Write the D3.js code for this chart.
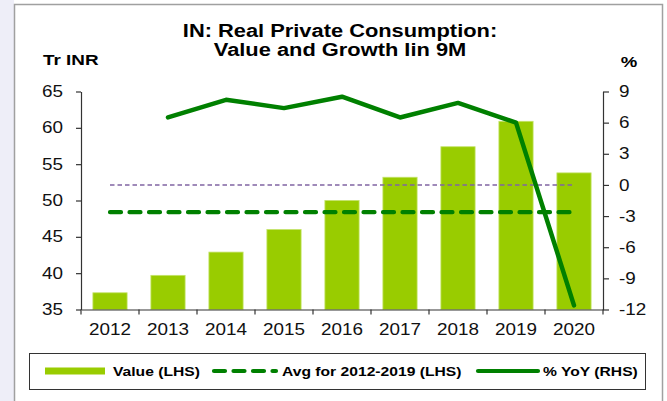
<!DOCTYPE html>
<html>
<head>
<meta charset="utf-8">
<script src="https://cdn.jsdelivr.net/npm/d3@7"></script>
<style>
  html, body { margin: 0; padding: 0; background: #ffffff; }
  svg { display: block; font-family: "Liberation Sans", Arial, sans-serif; }
</style>
</head>
<body>
<svg id="chart" width="667" height="401"></svg>
<script>
// ---- data ----
const years = ["2012","2013","2014","2015","2016","2017","2018","2019","2020"];
const values = [37.3, 39.7, 42.9, 46.0, 50.0, 53.2, 57.4, 60.9, 53.8];
const yoyYears = ["2013","2014","2015","2016","2017","2018","2019","2020"];
const yoyValues = [6.5, 8.2, 7.4, 8.5, 6.5, 7.9, 6.0, -11.6];
const avgValue = 48.4;
const leftTicks = [35, 40, 45, 50, 55, 60, 65];
const rightTicks = [-12, -9, -6, -3, 0, 3, 6, 9];
const titleLines = ["IN: Real Private Consumption:", "Value and Growth Iin 9M"];
const legendLabels = ["Value (LHS)", "Avg for 2012-2019 (LHS)", "% YoY (RHS)"];

const barColor = "#99cc00";
const lineColor = "#008000";
const zeroColor = "#8064a2";
const FONT = "'Liberation Sans', Arial, sans-serif";

const svg = d3.select("#chart");

// stretched text helper (reference text is horizontally wide)
function sText(parent, x, y, str, size, weight, anchor, sx) {
  const g = parent.append("g").attr("transform", `translate(${x},${y}) scale(${sx},1)`);
  g.append("text").attr("x", 0).attr("y", 0)
    .attr("text-anchor", anchor).attr("font-size", size).attr("font-weight", weight)
    .attr("font-family", FONT).attr("fill", "#000").text(str);
  return g;
}

// background
svg.append("rect").attr("x", 0).attr("y", 0).attr("width", 667).attr("height", 401).attr("fill", "#ffffff");
svg.append("rect").attr("x", 0).attr("y", 0).attr("width", 14).attr("height", 401).attr("fill", "#eeeef8");
svg.append("rect").attr("x", 14.5).attr("y", 4.5).attr("width", 648).attr("height", 420)
  .attr("fill", "#ffffff").attr("stroke", "#a0a0a0").attr("stroke-width", 1.5);

// scales
const x = d3.scaleBand().domain(years).range([81, 603]).paddingInner(0.41).paddingOuter(0.205);
const yL = d3.scaleLinear().domain([35, 65]).range([309.5, 91.5]);
const yR = d3.scaleLinear().domain([-12, 9]).range([309.5, 91.5]);
const cx = d => x(d) + x.bandwidth() / 2;

// title
sText(svg, 340, 36.5, titleLines[0], 19, "bold", "middle", 1.15);
sText(svg, 340, 56, titleLines[1], 19, "bold", "middle", 1.15);

// axis titles
sText(svg, 43, 64.5, "Tr INR", 15.5, "bold", "start", 1.22);
sText(svg, 629, 67, "%", 15.5, "bold", "middle", 1.2);

// bars
svg.append("g").selectAll("rect").data(years).join("rect")
  .attr("x", d => x(d)).attr("width", x.bandwidth())
  .attr("y", (d, i) => yL(values[i])).attr("height", (d, i) => yL(35) - yL(values[i]))
  .attr("fill", barColor).attr("stroke", "#c4e36a").attr("stroke-width", 0.8);

// zero line (RHS)
svg.append("line")
  .attr("x1", cx(years[0])).attr("x2", cx(years[years.length - 1]))
  .attr("y1", yR(0)).attr("y2", yR(0))
  .attr("stroke", zeroColor).attr("stroke-width", 1.6).attr("stroke-dasharray", "4.5,3");

// avg line (LHS)
svg.append("line")
  .attr("x1", cx(years[0])).attr("x2", cx(years[years.length - 1]) - 3)
  .attr("y1", yL(avgValue)).attr("y2", yL(avgValue))
  .attr("stroke", lineColor).attr("stroke-width", 4.2).attr("stroke-linecap", "round")
  .attr("stroke-dasharray", "11,8.5");

// YoY line
const line = d3.line().x((d, i) => cx(yoyYears[i])).y(d => yR(d));
svg.append("path").datum(yoyValues).attr("d", line)
  .attr("fill", "none").attr("stroke", lineColor).attr("stroke-width", 4.5)
  .attr("stroke-linejoin", "round").attr("stroke-linecap", "round");

// axes
const fontSize = 16;
const SX = 1.18;
const fmt = d => String(d);
const gL = svg.append("g").attr("transform", "translate(81,0)")
  .call(d3.axisLeft(yL).tickValues(leftTicks).tickFormat(fmt).tickSize(5).tickSizeOuter(0).tickPadding(13));
const gR = svg.append("g").attr("transform", "translate(603,0)")
  .call(d3.axisRight(yR).tickValues(rightTicks).tickFormat(fmt).tickSize(6).tickSizeOuter(0).tickPadding(10));
const gB = svg.append("g").attr("transform", "translate(0,309.5)")
  .call(d3.axisBottom(x).tickSize(0).tickPadding(14).tickSizeOuter(0));
// boundary ticks on x axis
const bounds = years.map(d => cx(d) - x.step() / 2).concat([cx(years[years.length - 1]) + x.step() / 2]);
svg.append("g").selectAll("line").data(bounds).join("line")
  .attr("x1", d => d).attr("x2", d => d).attr("y1", 309.5).attr("y2", 314.5)
  .attr("stroke", "#333").attr("stroke-width", 1.2);

[gL, gR, gB].forEach(g => {
  g.selectAll("text")
    .attr("font-size", fontSize).attr("fill", "#111").attr("font-family", FONT)
    .attr("x", function () { return (+this.getAttribute("x") || 0) / SX; })
    .attr("transform", `scale(${SX},1)`);
  g.select(".domain").attr("stroke", "#333").attr("stroke-width", 1.2);
  g.selectAll(".tick line").attr("stroke", "#333").attr("stroke-width", 1.2);
});

// legend
const lg = svg.append("g");
lg.append("rect").attr("x", 29.5).attr("y", 353.5).attr("width", 616).attr("height", 36)
  .attr("fill", "#fff").attr("stroke", "#333").attr("stroke-width", 1);
const ly = 371;
lg.append("rect").attr("x", 45).attr("y", ly - 3.5).attr("width", 60).attr("height", 7).attr("fill", barColor);
sText(lg, 113, ly + 5, legendLabels[0], 13.5, "bold", "start", 1.16);
lg.append("line").attr("x1", 214).attr("x2", 276).attr("y1", ly).attr("y2", ly)
  .attr("stroke", lineColor).attr("stroke-width", 4.2).attr("stroke-linecap", "round").attr("stroke-dasharray", "11,8.5");
sText(lg, 282, ly + 5, legendLabels[1], 13.5, "bold", "start", 1.16);
lg.append("line").attr("x1", 478).attr("x2", 538).attr("y1", ly).attr("y2", ly)
  .attr("stroke", lineColor).attr("stroke-width", 4.2).attr("stroke-linecap", "round");
sText(lg, 543, ly + 5, legendLabels[2], 13.5, "bold", "start", 1.16);
</script>
</body>
</html>
